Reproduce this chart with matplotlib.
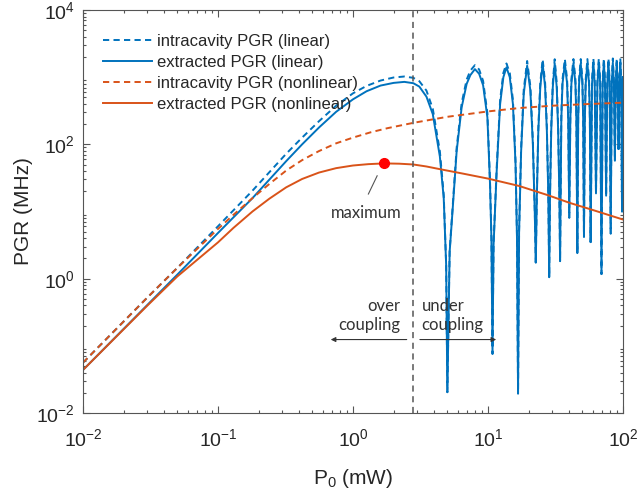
import matplotlib
matplotlib.use('Agg')
import matplotlib.pyplot as plt
from matplotlib.ticker import LogLocator, NullFormatter

plt.rcParams['font.family'] = ['Liberation Sans', 'DejaVu Sans']
plt.rcParams['mathtext.fontset'] = 'custom'
plt.rcParams['mathtext.rm'] = 'Liberation Sans'
plt.rcParams['mathtext.it'] = 'Liberation Sans:italic'

# P0 (mW) sample points for the linear-model curves
p_lin = [0.01, 0.03, 0.05, 0.1, 0.18, 0.32, 0.42, 0.56, 0.75, 1.0, 1.26, 1.6, 2.0, 2.4,
         2.8, 3.1, 3.5, 3.9, 4.4, 4.7, 4.9, 5.0,
         5.2, 5.53, 5.86, 6.38, 6.95, 7.4, 8.0, 8.6, 9.2, 9.9, 10.35, 10.6, 10.8,
         11.0, 11.6, 12.3, 13.0, 13.7, 14.5, 15.3, 16.0, 16.4, 16.7,
         17.0, 17.6, 18.4, 19.5, 20.6, 21.5, 22.2, 22.6,
         23.0, 23.6, 24.4, 25.4, 26.5, 27.3, 28.0, 28.4,
         28.8, 29.4, 30.2, 31.2, 32.3, 33.1, 33.8, 34.2,
         34.93, 35.65, 37.1, 38.55, 39.28, 40.0,
         40.74, 41.48, 42.95, 44.43, 45.16, 45.9,
         46.59, 47.28, 48.65, 50.03, 50.71, 51.4,
         52.18, 52.95, 54.5, 56.05, 56.83, 57.6,
         58.98, 60.35, 61.73, 63.1,
         64.65, 66.2, 67.75, 69.3,
         70.73, 72.15, 73.58, 75.0,
         76.53, 78.05, 79.58, 81.1,
         82.6, 84.1, 85.6, 87.1,
         88.5, 89.9, 91.3, 92.7,
         94.13, 95.55, 96.98, 98.4,
         99.1, 100.0]

# extracted PGR, linear (MHz)
pgr_ext_lin = [0.0437, 0.407, 1.15, 4.79, 15.8, 56.2, 100, 178, 305, 468, 617, 750, 822, 851,
               813, 724, 513, 282, 66, 15.8, 1.58, 0.0204,
               2.5, 14.5, 79, 355, 794, 1072, 1318, 1122, 759, 251, 25.7, 4.0, 0.076,
               3.2, 40, 398, 1000, 1400, 1000, 398, 50, 4.0, 0.0195,
               5, 79, 562, 1480, 631, 100, 10, 1.74,
               16, 158, 708, 1585, 708, 158, 16, 1.05,
               16, 158, 708, 1585, 708, 158, 16, 1.82,
               235, 800, 1600, 800, 235, 8.1,
               235, 800, 1600, 800, 235, 2.4,
               235, 800, 1600, 800, 235, 4.2,
               235, 800, 1600, 800, 235, 3.5,
               800, 1650, 800, 18.6,
               800, 1650, 800, 1.17,
               800, 1650, 800, 17.2,
               800, 1650, 800, 4.7,
               800, 1650, 800, 57,
               800, 1650, 800, 85,
               800, 1650, 800, 10,
               235, 900]

# intracavity PGR, linear (MHz)
pgr_int_lin = [0.0562, 0.525, 1.45, 6.03, 20.4, 72.4, 126, 221, 376, 575, 741, 891, 989, 1023,
               977, 871, 631, 339, 79, 17.8, 1.6, 0.0204,
               2.6, 16, 89, 410, 920, 1250, 1510, 1300, 880, 290, 29, 4.2, 0.076,
               3.4, 45, 460, 1160, 1600, 1160, 460, 56, 4.3, 0.0195,
               5.3, 89, 650, 1740, 730, 112, 10.8, 1.74,
               17.5, 180, 820, 1850, 820, 180, 17.5, 1.05,
               17.5, 180, 820, 1850, 820, 180, 17.5, 1.82,
               270, 930, 1860, 930, 270, 8.1,
               270, 930, 1860, 930, 270, 2.4,
               270, 930, 1860, 930, 270, 4.2,
               270, 930, 1860, 930, 270, 3.5,
               930, 1900, 930, 18.6,
               930, 1900, 930, 1.17,
               930, 1900, 930, 17.2,
               930, 1900, 930, 4.7,
               930, 1900, 930, 57,
               930, 1900, 930, 85,
               930, 1900, 930, 10,
               270, 1040]

# nonlinear model curves
p_int_nl = [0.01, 0.03, 0.05, 0.1, 0.13, 0.18, 0.24, 0.32, 0.42, 0.56, 0.75, 1.0, 1.35, 1.8,
            2.8, 5.0, 10, 17, 30, 55, 100]
pgr_int_nl = [0.0562, 0.525, 1.45, 5.5, 8.91, 15.8, 25.7, 40.7, 58.2, 79.4, 103.5, 126, 151,
              174, 209, 257, 309, 347, 376, 398, 417]

p_ext_nl = [0.01, 0.03, 0.05, 0.1, 0.13, 0.18, 0.24, 0.32, 0.42, 0.56, 0.75, 1.0, 1.3, 1.7,
            2.2, 2.8, 3.5, 4.4, 6.5, 10, 17, 28, 40, 60, 100]
pgr_ext_nl = [0.0437, 0.398, 1.08, 3.47, 5.69, 10.0, 15.5, 22.9, 30.5, 38.0, 44.2, 48.4, 50.7,
              52.0, 51.5, 50.1, 46.8, 42.7, 36.7, 30.9, 24.0, 17.4, 13.5, 10.5, 7.59]

p_max, pgr_max = 1.7, 52.0
p_critical = 2.78

blue = '#0072BD'
orange = '#D95319'
txt = '#262626'

fig = plt.figure(figsize=(6.37, 4.93), dpi=100)
ax = fig.add_axes([0.1303, 0.1623, 0.8477, 0.8174])

ax.plot(p_lin, pgr_int_lin, color=blue, linewidth=1.4, dashes=(3.2, 2.2),
        label='intracavity PGR (linear)')
ax.plot(p_lin, pgr_ext_lin, color=blue, linewidth=1.4, label='extracted PGR (linear)')
ax.plot(p_int_nl, pgr_int_nl, color=orange, linewidth=1.4, dashes=(3.2, 2.2),
        label='intracavity PGR (nonlinear)')
ax.plot(p_ext_nl, pgr_ext_nl, color=orange, linewidth=1.4, label='extracted PGR (nonlinear)')

ax.axvline(p_critical, color='#555555', linewidth=1.1, dashes=(4, 3))
ax.plot([p_max], [pgr_max], 'o', color='#FF0000', markersize=7, zorder=5)

# annotations
ann = dict(color='#333333', fontsize=12, family=['Lato', 'DejaVu Sans'])
ax.plot([1.51, 1.30], [34, 18.2], color='#555555', linewidth=0.8)
ax.text(1.26, 9.4, 'maximum', ha='center', va='center', **ann)
ax.text(2.23, 0.28, 'over\ncoupling', ha='right', va='center', linespacing=1.25, **ann)
ax.text(3.23, 0.28, 'under\ncoupling', ha='left', va='center', linespacing=1.25, **ann)
ax.annotate('', xy=(0.684, 0.124), xytext=(2.5, 0.124),
            arrowprops=dict(arrowstyle='-|>', color='#333333', lw=0.8,
                            mutation_scale=7, shrinkA=0, shrinkB=0))
ax.annotate('', xy=(11.5, 0.124), xytext=(3.13, 0.124),
            arrowprops=dict(arrowstyle='-|>', color='#333333', lw=0.8,
                            mutation_scale=7, shrinkA=0, shrinkB=0))

ax.set_xscale('log')
ax.set_yscale('log')
ax.set_xlim(0.01, 100)
ax.set_ylim(0.01, 1e4)
ax.xaxis.set_major_locator(LogLocator(base=10, numticks=10))
ax.yaxis.set_major_locator(LogLocator(base=10, subs=(1.0,), numticks=10))
ax.yaxis.set_minor_locator(LogLocator(base=10, subs=range(2, 10), numticks=20))
ax.yaxis.set_minor_formatter(NullFormatter())
ax.set_yticks([1e-2, 1e0, 1e2, 1e4])

ax.tick_params(which='both', direction='in', top=True, right=True, colors='#555555',
               labelcolor=txt, labelsize=14, width=0.8)
ax.tick_params(which='major', length=5)
ax.tick_params(axis='x', which='major', pad=11)
ax.tick_params(axis='y', which='major', pad=6)
ax.tick_params(which='minor', length=2.5)
for s in ax.spines.values():
    s.set_color('#555555')
    s.set_linewidth(0.8)

ax.set_xlabel('P$_0$ (mW)', fontsize=15, color=txt, labelpad=12)
ax.set_ylabel('PGR (MHz)', fontsize=15, color=txt, labelpad=2)

ax.legend(loc='upper left', bbox_to_anchor=(0.037, 0.94), frameon=False, fontsize=12,
          handlelength=2.95, handletextpad=0.3, labelspacing=0.36, borderpad=0,
          borderaxespad=0, labelcolor=txt)

fig.savefig('out.png', dpi=100)
